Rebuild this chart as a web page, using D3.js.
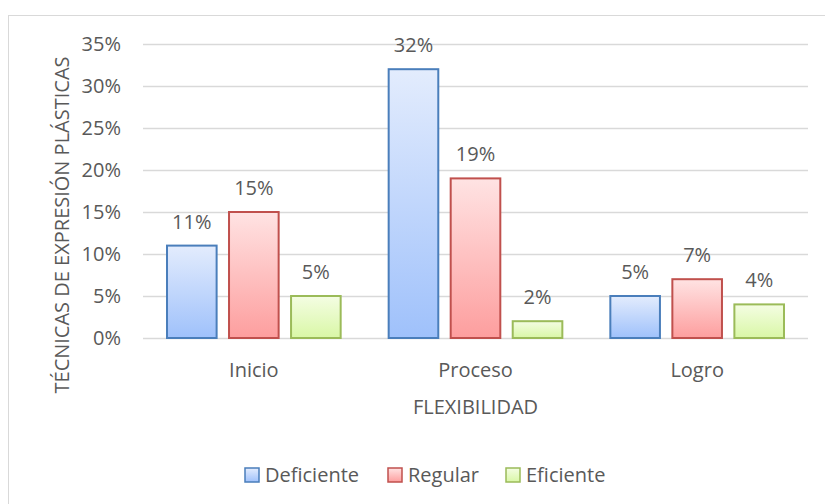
<html>
  <head>
    <script src="https://d3js.org/d3.v7.min.js"></script>
    <style>
      body {
        margin: 0;
        background: #fff;
      }
      text {
        font-family: "Open Sans", "Noto Sans", sans-serif;
        fill: #595959;
      }
      .gridlines line {
        stroke: #d9d9d9;
        stroke-width: 1.3;
      }
      .gridlines .domain {
        stroke: none;
      }
    </style>
  </head>

  <body>
    <svg id="chart" width="825" height="504"></svg>

    <script>
      // data
      const categories = ["Inicio", "Proceso", "Logro"];
      const seriesNames = ["Deficiente", "Regular", "Eficiente"];
      const deficiente = [0.11, 0.32, 0.05];
      const regular = [0.15, 0.19, 0.07];
      const eficiente = [0.05, 0.02, 0.04];
      const yTicks = [0, 0.05, 0.1, 0.15, 0.2, 0.25, 0.3, 0.35];

      const seriesValues = [deficiente, regular, eficiente];
      const strokes = ["#4a7ebb", "#c0504d", "#9bbb59"];
      const gradTop = ["#e3ecfd", "#ffe3e3", "#f4fde3"];
      const gradBottom = ["#9fc1fb", "#fd9e9e", "#d9f7a6"];

      const svg = d3.select("svg#chart");

      // chart border
      svg
        .append("rect")
        .attr("x", 8.5)
        .attr("y", 15.5)
        .attr("width", 840)
        .attr("height", 520)
        .attr("fill", "white")
        .attr("stroke", "#d9d9d9");

      const defs = svg.append("defs");
      seriesNames.forEach((s, i) => {
        let g = defs
          .append("linearGradient")
          .attr("id", "grad" + i)
          .attr("x1", 0)
          .attr("y1", 0)
          .attr("x2", 0)
          .attr("y2", 1);
        g.append("stop").attr("offset", "0%").attr("stop-color", gradTop[i]);
        g.append("stop").attr("offset", "100%").attr("stop-color", gradBottom[i]);
      });

      const plotLeft = 143,
        plotRight = 808,
        plotTop = 44,
        plotBottom = 338;

      let yScale = d3.scaleLinear().domain([0, 0.35]).range([plotBottom, plotTop]);

      let xScale = d3
        .scaleBand()
        .domain(categories)
        .range([plotLeft, plotRight])
        .paddingInner(0)
        .paddingOuter(0);

      let inner = d3
        .scaleBand()
        .domain(seriesNames)
        .range([24, xScale.bandwidth() - 24])
        .paddingInner(0.2)
        .paddingOuter(0);

      // gridlines
      svg
        .append("g")
        .attr("class", "gridlines")
        .attr("transform", `translate(${plotLeft},0)`)
        .call(
          d3
            .axisLeft(yScale)
            .tickValues(yTicks)
            .tickSize(-(plotRight - plotLeft))
            .tickFormat("")
        );

      // y tick labels
      svg
        .append("g")
        .selectAll("text")
        .data(yTicks)
        .join("text")
        .attr("x", 121)
        .attr("y", (d) => yScale(d))
        .attr("dy", "0.35em")
        .attr("text-anchor", "end")
        .attr("font-size", 20)
        .text((d) => d3.format(".0%")(d));

      // bars
      const bars = [];
      categories.forEach((c, ci) => {
        seriesNames.forEach((s, si) => {
          bars.push({ cat: c, ser: s, si: si, v: seriesValues[si][ci] });
        });
      });

      svg
        .append("g")
        .selectAll("rect")
        .data(bars)
        .join("rect")
        .attr("x", (d) => xScale(d.cat) + inner(d.ser))
        .attr("y", (d) => yScale(d.v))
        .attr("width", inner.bandwidth())
        .attr("height", (d) => plotBottom - yScale(d.v))
        .attr("fill", (d) => `url(#grad${d.si})`)
        .attr("stroke", (d) => strokes[d.si])
        .attr("stroke-width", 2);

      // value labels
      svg
        .append("g")
        .selectAll("text")
        .data(bars)
        .join("text")
        .attr("x", (d) => xScale(d.cat) + inner(d.ser) + inner.bandwidth() / 2)
        .attr("y", (d) => yScale(d.v) - 17)
        .attr("text-anchor", "middle")
        .attr("font-size", 20)
        .text((d) => d3.format(".0%")(d.v));

      // category labels
      svg
        .append("g")
        .selectAll("text")
        .data(categories)
        .join("text")
        .attr("x", (d) => xScale(d) + xScale.bandwidth() / 2)
        .attr("y", 377)
        .attr("text-anchor", "middle")
        .attr("font-size", 20)
        .text((d) => d);

      // axis titles
      svg
        .append("text")
        .attr("x", (plotLeft + plotRight) / 2)
        .attr("y", 414)
        .attr("text-anchor", "middle")
        .attr("font-size", 20)
        .text("FLEXIBILIDAD");

      svg
        .append("text")
        .attr("transform", "translate(69,225) rotate(-90)")
        .attr("text-anchor", "middle")
        .attr("font-size", 20)
        .text("TÉCNICAS DE EXPRESIÓN PLÁSTICAS");

      // legend
      const legendX = [245, 388, 506];
      let legend = svg
        .append("g")
        .selectAll("g")
        .data(seriesNames)
        .join("g")
        .attr("transform", (d, i) => `translate(${legendX[i]},468)`);

      legend
        .append("rect")
        .attr("width", 14)
        .attr("height", 14)
        .attr("fill", (d, i) => `url(#grad${i})`)
        .attr("stroke", (d, i) => strokes[i])
        .attr("stroke-width", 1.5);

      legend
        .append("text")
        .attr("x", 20)
        .attr("y", 14)
        .attr("font-size", 20)
        .text((d) => d);
    </script>
  </body>
</html>
